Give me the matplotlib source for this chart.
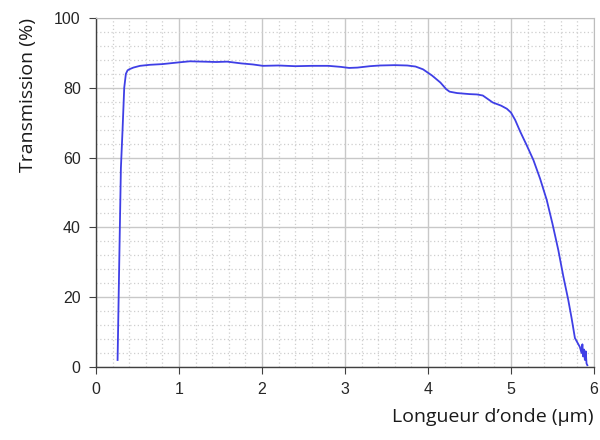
import matplotlib

matplotlib.use("Agg")
import matplotlib.pyplot as plt
from matplotlib.ticker import MultipleLocator

# Values
wavelength_um = [
    0.26, 0.28, 0.30, 0.32, 0.34, 0.36, 0.38, 0.40, 0.45, 0.53, 0.65, 0.80,
    1.00, 1.13, 1.30, 1.45, 1.58, 1.75, 1.89, 2.01, 2.20, 2.40, 2.60, 2.80,
    2.95, 3.05, 3.15, 3.30, 3.42, 3.60, 3.75, 3.85, 3.94, 4.05, 4.15, 4.22,
    4.26, 4.35, 4.50, 4.59, 4.66, 4.72, 4.78, 4.88, 4.95, 5.00, 5.05, 5.11,
    5.19, 5.27, 5.35, 5.43, 5.50, 5.57, 5.63, 5.69, 5.73, 5.77, 5.80, 5.83,
    5.85, 5.86, 5.87, 5.88, 5.89, 5.90, 5.91, 5.92,
]
transmission_pct = [
    2.0, 30.0, 57.0, 68.0, 80.0, 84.0, 85.0, 85.3, 85.8, 86.3, 86.6, 86.8,
    87.3, 87.6, 87.5, 87.4, 87.5, 87.0, 86.7, 86.3, 86.4, 86.2, 86.3, 86.3,
    86.0, 85.7, 85.8, 86.2, 86.4, 86.5, 86.4, 86.1, 85.3, 83.5, 81.5, 79.6,
    78.9, 78.5, 78.2, 78.1, 77.8, 76.8, 75.8, 74.9, 74.0, 72.9, 70.8, 67.5,
    63.5, 59.3, 54.0, 47.9, 41.0, 33.5, 26.0, 19.2, 14.0, 8.3, 7.0, 5.7,
    4.0, 6.5, 3.0, 5.0, 2.0, 4.5, 1.0, 0.5,
]

x_ticks = [0, 1, 2, 3, 4, 5, 6]
y_ticks = [0, 20, 40, 60, 80, 100]


def main() -> None:
    fig = plt.figure(figsize=(6.0, 4.4), dpi=100)
    ax = fig.add_axes([0.16, 0.166, 0.83, 0.793])

    ax.plot(wavelength_um, transmission_pct, color="#3f3fe6", linewidth=1.3,
            solid_joinstyle="round", zorder=3)

    ax.set_xlim(0, 6)
    ax.set_ylim(0, 100)
    ax.set_xticks(x_ticks)
    ax.set_yticks(y_ticks)
    ax.xaxis.set_minor_locator(MultipleLocator(0.2))
    ax.yaxis.set_minor_locator(MultipleLocator(4))

    ax.grid(True, which="major", color="#c8c8c8", linewidth=1.0, zorder=0)
    ax.grid(True, which="minor", color="#cfcfcf", linewidth=0.9, linestyle=(0, (1, 2)), zorder=0)
    ax.set_axisbelow(True)

    for side in ("top", "right"):
        ax.spines[side].set_color("#bdbdbd")
    for side in ("left", "bottom"):
        ax.spines[side].set_color("#404040")
        ax.spines[side].set_linewidth(1.0)

    ax.tick_params(which="major", direction="out", length=5, color="#404040",
                   labelsize=11.5, labelcolor="#262626", pad=6)
    ax.tick_params(which="minor", length=0)
    for lbl in ax.get_xticklabels() + ax.get_yticklabels():
        lbl.set_fontfamily("Liberation Sans")

    ax.set_ylabel("Transmission (%)", fontsize=14, family="Open Sans", loc="top",
                  color="#1a1a1a", labelpad=12)
    ax.set_xlabel("Longueur d\u2019onde (\u00b5m)", fontsize=14, family="Open Sans",
                  loc="right", color="#1a1a1a", labelpad=8)

    fig.savefig("out.png", dpi=100, facecolor="white")
    plt.close(fig)


if __name__ == "__main__":
    main()
